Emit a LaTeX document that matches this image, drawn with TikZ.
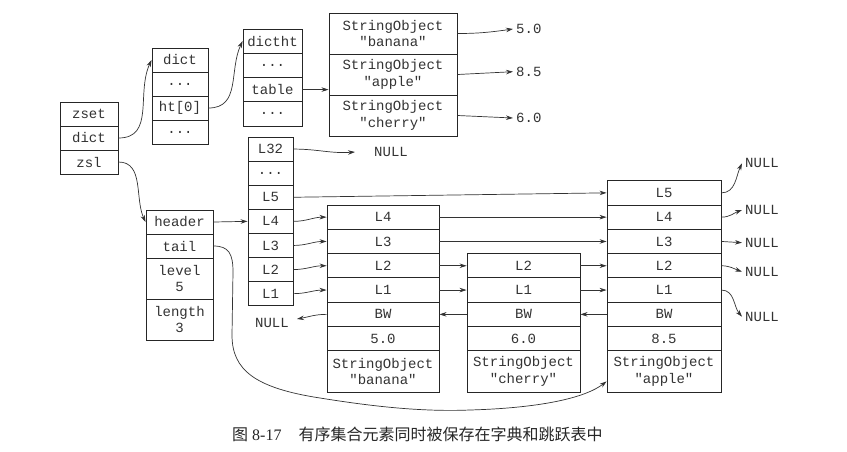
\documentclass[tikz,border=0pt]{standalone}
\usepackage{fontspec}
\setmainfont{Liberation Serif}
\setmonofont{Liberation Mono}
\newfontfamily\cjk{Noto Sans CJK SC}
\usetikzlibrary{arrows.meta}
\newcommand\cellfont{\ttfamily\fontsize{14}{16.5}\selectfont}
\tikzset{
  cell/.style={draw=black!85, line width=0.9pt, inner sep=0pt, font=\cellfont, text=black!80, align=center},
  arr/.style={draw=black!80, line width=0.7pt, -{Stealth[length=7pt,width=4.5pt]}},
  lbl/.style={inner ysep=0pt, inner xsep=3pt, font=\cellfont, text=black!80},
  zcol/.style={cell, minimum width=58pt, minimum height=24pt},
  dcol/.style={cell, minimum width=56pt, minimum height=24pt},
  tcol/.style={cell, minimum width=59pt, minimum height=24.25pt},
  scol/.style={cell, minimum width=128pt, minimum height=41pt},
  hcol/.style={cell, minimum width=67pt, minimum height=#1},
  lcol/.style={cell, minimum width=45pt, minimum height=24.1pt},
  ncol/.style={cell, minimum width=#1, minimum height=24.3pt},
  ocol/.style={cell, minimum width=#1, minimum height=41.2pt},
}
\begin{document}
\begin{tikzpicture}[x=1pt,y=1pt]
\fill[white] (0,0) rectangle (847,-451);
\useasboundingbox (0,0) rectangle (847,-451);

% zset
\node[zcol] (z1) at (89,-114) {zset};
\node[zcol] (z2) at (89,-138) {dict};
\node[zcol] (z3) at (89,-162) {zsl};

% dict
\node[dcol] (d1) at (180,-60) {dict};
\node[dcol] (d2) at (180,-84) {...};
\node[dcol] (d3) at (180,-108) {ht[0]};
\node[dcol] (d4) at (180,-132) {...};

% dictht
\node[tcol] (t1) at (272.5,-41.1) {dictht};
\node[tcol] (t2) at (272.5,-65.4) {...};
\node[tcol] (t3) at (272.5,-89.6) {table};
\node[tcol] (t4) at (272.5,-113.9) {...};

% dict entries
\node[scol] (s1) at (393,-33.5) {StringObject\\"banana"};
\node[scol] (s2) at (393,-74.5) {StringObject\\"apple"};
\node[scol] (s3) at (393,-115.5) {StringObject\\"cherry"};

\node[lbl, anchor=west] (n1) at (513,-29) {5.0};
\node[lbl, anchor=west] (n2) at (513,-71.7) {8.5};
\node[lbl, anchor=west] (n3) at (513,-118) {6.0};

% zskiplist
\node[hcol=24pt] (h1) at (179.5,-222) {header};
\node[hcol=24pt] (h2) at (179.5,-246) {tail};
\node[hcol=41pt] (h3) at (179.5,-278.5) {level\\5};
\node[hcol=41pt] (h4) at (179.5,-319.5) {length\\3};

% header levels
\node[lcol] (lv1) at (270.5,-149.05) {L32};
\node[lcol] (lv2) at (270.5,-173.15) {...};
\node[lcol] (lv3) at (270.5,-197.25) {L5};
\node[lcol] (lv4) at (270.5,-221.35) {L4};
\node[lcol] (lv5) at (270.5,-245.45) {L3};
\node[lcol] (lv6) at (270.5,-269.55) {L2};
\node[lcol] (lv7) at (270.5,-293.65) {L1};

\node[lbl, anchor=west, inner xsep=0pt] (n32) at (374,-152) {NULL};

% banana node
\node[ncol=112pt] (b4) at (383,-217.15) {L4};
\node[ncol=112pt] (b3) at (383,-241.45) {L3};
\node[ncol=112pt] (b2) at (383,-265.75) {L2};
\node[ncol=112pt] (b1) at (383,-290.05) {L1};
\node[ncol=112pt] (bw) at (383,-314.35) {BW};
\node[ncol=112pt] (bs) at (383,-338.65) {5.0};
\node[ocol=112pt] (bo) at (383,-371.4) {StringObject\\"banana"};

% cherry node
\node[ncol=113pt] (c2) at (523.5,-265.75) {L2};
\node[ncol=113pt] (c1) at (523.5,-290.05) {L1};
\node[ncol=113pt] (cw) at (523.5,-314.35) {BW};
\node[ncol=113pt] (cs) at (523.5,-338.65) {6.0};
\node[ocol=113pt] (co) at (523.5,-371.4) {StringObject\\"cherry"};

% apple node
\node[ncol=114pt] (a5) at (664,-192.85) {L5};
\node[ncol=114pt] (a4) at (664,-217.15) {L4};
\node[ncol=114pt] (a3) at (664,-241.45) {L3};
\node[ncol=114pt] (a2) at (664,-265.75) {L2};
\node[ncol=114pt] (a1) at (664,-290.05) {L1};
\node[ncol=114pt] (aw) at (664,-314.35) {BW};
\node[ncol=114pt] (as) at (664,-338.65) {8.5};
\node[ocol=114pt] (ao) at (664,-371.4) {StringObject\\"apple"};

% NULL labels
\node[lbl, anchor=east, inner xsep=0pt] (nl) at (289,-323) {NULL};
\node[lbl, anchor=west] (nb1) at (742,-163.3) {NULL};
\node[lbl, anchor=west] (nb2) at (742,-210) {NULL};
\node[lbl, anchor=west] (nb3) at (742,-242.7) {NULL};
\node[lbl, anchor=west] (nb4) at (742,-271.7) {NULL};
\node[lbl, anchor=west] (nb5) at (742,-316.7) {NULL};

% caption
\node[anchor=base west, inner sep=0pt, text=black!85, font=\fontsize{16}{18}\selectfont] (cap) at (232,-440)
  {{\cjk 图}~8-17\hspace{17pt}{\cjk 有序集合元素同时被保存在字典和跳跃表中}};

% dict side connectors
\draw[arr] (z2.east) to[out=0,in=-115,looseness=1.1] (d1.west);
\draw[arr] (d3.east) to[out=0,in=-115,looseness=1.1] (t1.west);
\draw[arr] (t3.east) -- (t3.east -| s2.west);
\draw[arr] (s1.east) to[out=0,in=188] (n1.west);
\draw[arr] (s2.east) -- (n2.west);
\draw[arr] (s3.east) -- (n3.west);

% zsl
\draw[arr] (z3.east) to[out=0,in=115] (h1.west);
\draw[arr] (lv1.east) to[out=0,in=184] ([xshift=-19pt]n32.west);
\draw[arr] (h1.east) -- (lv4.west);

% tail
\draw[arr] (h2.east) .. controls (229,-246) and (233,-254) .. (233,-272)
  -- (232,-335)
  .. controls (232,-370) and (255,-388) .. (320,-398)
  .. controls (370,-406) and (420,-412) .. (470,-410)
  .. controls (540,-408) and (585,-398) .. ([yshift=-10pt]ao.west);

% header levels to nodes
\draw[arr] (lv3.east) -- (a5.west);
\draw[arr] (lv4.east) to[out=0,in=180] (b4.west);
\draw[arr] (lv5.east) to[out=0,in=180] (b3.west);
\draw[arr] (lv6.east) to[out=0,in=180] (b2.west);
\draw[arr] (lv7.east) to[out=0,in=180] (b1.west);

% forward links
\draw[arr] (b4.east) -- (a4.west);
\draw[arr] (b3.east) -- (a3.west);
\draw[arr] (b2.east) -- (c2.west);
\draw[arr] (b1.east) -- (c1.west);
\draw[arr] (c2.east) -- (a2.west);
\draw[arr] (c1.east) -- (a1.west);

% backward links
\draw[arr] (bw.west) to[out=180,in=10] ([xshift=8pt,yshift=4pt]nl.east);
\draw[arr] (cw.west) -- (bw.east);
\draw[arr] (aw.west) -- (cw.east);

% apple to NULL
\draw[arr] (a5.east) to[out=0,in=-115] (nb1.west);
\draw[arr] (a4.east) to[out=0,in=200] (nb2.west);
\draw[arr] (a3.east) -- (nb3.west);
\draw[arr] (a2.east) to[out=0,in=160] (nb4.west);
\draw[arr] (a1.east) to[out=0,in=130] (nb5.west);
\end{tikzpicture}
\end{document}
